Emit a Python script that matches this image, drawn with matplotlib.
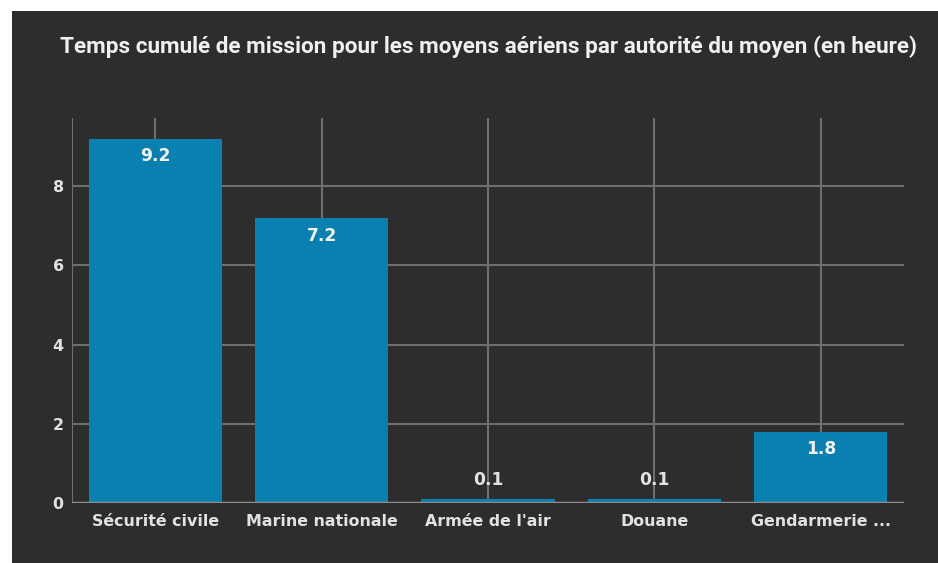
import numpy as np
import matplotlib.pyplot as plt
from matplotlib.patches import Rectangle

# données
autorites = ['Sécurité civile', 'Marine nationale', "Armée de l'air", 'Douane', 'Gendarmerie ...']
heures = [9.2, 7.2, 0.1, 0.1, 1.8]
yticks = [0, 2, 4, 6, 8]

fond = '#2d2d2d'
bleu = '#0a80b1'
grille = '#6f6f6f'
texte = '#e2e2e2'

fig = plt.figure(figsize=(9.38, 5.63), dpi=100, facecolor='white')
# cadre sombre (bord blanc en haut et à gauche)
fig.patches.append(Rectangle((12 / 938, 0), 1, (563 - 11) / 563, transform=fig.transFigure,
                             facecolor=fond, edgecolor='none', zorder=-10))

ax = fig.add_axes([72 / 938, 60 / 563, (904 - 72) / 938, (503 - 118) / 563])
ax.set_facecolor(fond)
ax.set_zorder(5)

x = np.arange(len(autorites))
ax.set_xlim(-0.5, len(autorites) - 0.5)
ax.set_ylim(0, 9.72)

# grille
for yv in yticks[1:]:
    ax.axhline(yv, color=grille, lw=1.5, zorder=1)
for xv in x:
    ax.axvline(xv, color=grille, lw=1.5, zorder=1)
ax.axvline(-0.5, color=grille, lw=1.5, zorder=1)

ax.bar(x, heures, width=0.8, color=bleu, zorder=2)
ax.axhline(0, color='#8c8c8c', lw=2.5, zorder=3)

for xi, v in zip(x, heures):
    if v > 1:
        ax.text(xi, v - 0.22, f'{v}', ha='center', va='top', color='#f2f2f2',
                fontsize=12.3, fontweight='bold', zorder=4)
    else:
        ax.text(xi, v + 0.25, f'{v}', ha='center', va='bottom', color=texte,
                fontsize=12.3, fontweight='bold', zorder=4)

for s in ax.spines.values():
    s.set_visible(False)
ax.set_xticks(x)
ax.set_xticklabels(autorites)
ax.set_yticks(yticks)
ax.tick_params(axis='both', length=0, colors=texte, labelsize=11.4)
ax.tick_params(axis='x', pad=8)
ax.tick_params(axis='y', pad=6)
for lab in ax.get_xticklabels() + ax.get_yticklabels():
    lab.set_fontweight('bold')

fig.text(488 / 938, 1 - 47 / 563, 'Temps cumulé de mission pour les moyens aériens par autorité du moyen (en heure)',
         ha='center', va='center', color='#f0f0f0', fontsize=16.2, fontweight='bold',
         family='Roboto')

fig.savefig('out.png', dpi=100, facecolor='white')
